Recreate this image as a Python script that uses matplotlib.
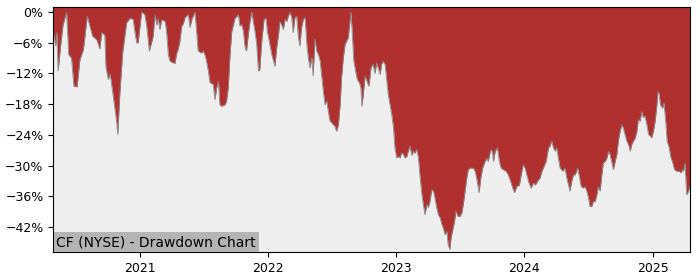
import matplotlib
matplotlib.use("Agg")
import matplotlib.pyplot as plt
import matplotlib.dates as mdates
from matplotlib.ticker import PercentFormatter, MultipleLocator
import pandas as pd

# Drawdown of CF (NYSE).
# Dates are given as day offsets from the first observation.
start_date = "2020-04-28"

day_offsets = [
    0, 7, 10, 14, 22, 28, 38, 44, 52, 59, 68, 76, 86, 97, 112, 124, 133, 138,
    147, 150, 157, 162, 171, 181, 184, 190, 198, 209, 219, 228, 233, 238, 242,
    252, 261, 266, 274, 285, 290, 295, 299, 304, 309, 319, 323, 328, 333, 342,
    347, 352, 356, 361, 366, 371, 376, 385, 390, 395, 404, 409, 413, 423, 428,
    433, 437, 442, 447, 456, 461, 466, 471, 475, 480, 490, 494, 499, 504, 509,
    518, 528, 532, 537, 542, 547, 551, 556, 561, 566, 570, 575, 580, 585, 589,
    594, 601, 607, 610, 616, 623, 627, 632, 637, 642, 646, 651, 656, 661, 666,
    670, 675, 680, 684, 689, 694, 699, 703, 708, 713, 718, 723, 727, 732, 737,
    741, 746, 751, 756, 761, 765, 770, 775, 780, 784, 789, 794, 798, 803, 808,
    813, 818, 822, 827, 832, 841, 846, 849, 854, 857, 863, 867, 873, 877, 880,
    884, 889, 900, 906, 912, 917, 922, 932, 936, 941, 946, 951, 955, 960, 965,
    970, 974, 979, 984, 989, 993, 998, 1003, 1008, 1012, 1017, 1022, 1027,
    1031, 1036, 1041, 1046, 1051, 1055, 1060, 1065, 1069, 1074, 1079, 1084,
    1088, 1093, 1098, 1103, 1108, 1112, 1117, 1122, 1126, 1131, 1134, 1138,
    1144, 1148, 1153, 1160, 1165, 1169, 1174, 1179, 1183, 1188, 1198, 1203,
    1207, 1214, 1219, 1224, 1231, 1236, 1240, 1247, 1252, 1255, 1260, 1266,
    1272, 1277, 1283, 1291, 1297, 1304, 1310, 1315, 1321, 1329, 1336, 1340,
    1345, 1350, 1355, 1362, 1369, 1374, 1378, 1383, 1388, 1393, 1397, 1405,
    1412, 1416, 1421, 1426, 1431, 1435, 1440, 1445, 1453, 1459, 1464, 1469,
    1473, 1478, 1483, 1488, 1495, 1499, 1505, 1511, 1516, 1521, 1526, 1530,
    1535, 1540, 1545, 1550, 1554, 1559, 1564, 1568, 1573, 1578, 1583, 1587,
    1592, 1597, 1602, 1607, 1611, 1616, 1621, 1625, 1630, 1635, 1640, 1645,
    1649, 1654, 1659, 1664, 1668, 1673, 1678, 1682, 1687, 1692, 1697, 1702,
    1706, 1711, 1716, 1721, 1724, 1727, 1731, 1737, 1741, 1746, 1750, 1756,
    1761, 1765, 1771, 1778, 1784, 1790, 1794, 1797, 1801, 1806, 1811, 1816,
]

drawdown = [
    -3.7, -6.6, -4.0, -11.5, -6.0, -2.5, 0.0, -8.3, -9.0, -14.5, -14.6, -9.3,
    -7.3, -0.8, -4.7, -5.4, -7.2, -4.0, -4.5, -10.6, -13.2, -12.0, -16.4,
    -21.6, -23.9, -15.8, -7.9, -2.1, -1.2, -1.4, -4.0, -6.0, -6.0, 0.0, -0.5,
    -2.5, -7.6, -4.7, -0.5, -2.5, -1.2, -3.4, -1.5, -1.8, -3.7, -8.3, -9.6,
    -9.9, -10.0, -8.0, -7.3, -5.7, -2.8, -2.2, -1.0, -0.5, -3.0, -1.4, 0.0,
    -4.0, -7.6, -8.0, -7.6, -8.5, -9.6, -11.5, -13.8, -14.1, -17.1, -14.8,
    -13.5, -18.1, -18.4, -18.1, -17.4, -14.8, -8.3, -3.8, -1.2, -0.5, -2.7,
    -2.4, -3.7, -7.0, -7.6, -4.4, -1.8, 0.0, -1.8, -3.7, -6.3, -11.5, -11.2,
    -6.0, -1.4, -1.2, -3.7, -5.7, -8.3, -9.3, -10.6, -7.0, -4.5, -1.8, -2.5,
    -3.4, -1.4, -1.8, -0.8, 0.0, -1.1, -4.0, -1.1, -0.8, -5.0, -6.6, -3.0,
    -1.4, -1.1, -6.3, -8.9, -10.9, -8.9, -12.5, -5.3, -7.6, -8.3, -9.6, -12.3,
    -15.5, -18.1, -17.4, -19.4, -21.3, -21.6, -22.0, -22.3, -23.3, -22.0,
    -18.1, -12.8, -8.9, -6.3, -5.0, -1.8, 0.0, -6.0, -9.6, -11.9, -13.2,
    -13.8, -14.8, -18.4, -16.1, -12.5, -14.5, -10.8, -10.2, -12.0, -9.9,
    -12.2, -10.2, -9.6, -10.2, -13.5, -16.1, -18.1, -20.0, -22.6, -26.5,
    -28.5, -28.2, -28.5, -27.5, -27.8, -28.5, -28.2, -27.2, -26.2, -28.0,
    -27.2, -27.6, -26.8, -28.5, -32.4, -35.7, -37.6, -39.6, -37.6, -38.2,
    -37.0, -34.7, -35.0, -36.3, -38.2, -39.6, -40.2, -41.5, -42.2, -43.5,
    -42.9, -45.5, -46.4, -44.2, -42.9, -40.9, -38.9, -39.9, -39.9, -39.2,
    -37.6, -35.0, -32.4, -30.8, -30.5, -30.5, -31.2, -32.4, -35.3, -32.4,
    -30.5, -29.2, -28.6, -29.2, -26.9, -27.2, -29.2, -27.2, -26.5, -29.2,
    -30.5, -30.8, -31.1, -31.8, -33.1, -34.4, -35.3, -34.1, -33.8, -31.1,
    -29.8, -30.5, -31.8, -33.1, -34.4, -33.4, -33.8, -33.4, -32.8, -32.4,
    -31.1, -30.5, -29.2, -26.5, -26.2, -25.2, -26.5, -27.2, -26.5, -28.5,
    -30.5, -31.1, -30.5, -32.4, -33.8, -35.0, -33.1, -31.8, -31.8, -30.5,
    -31.8, -34.1, -34.4, -34.1, -35.0, -36.3, -38.0, -38.0, -37.0, -37.0,
    -35.7, -34.1, -35.0, -31.8, -29.5, -29.2, -28.6, -27.2, -27.8, -29.2,
    -30.8, -29.2, -27.8, -25.2, -23.3, -22.0, -22.6, -23.9, -25.2, -25.9,
    -27.2, -25.9, -25.2, -24.6, -23.3, -21.0, -21.3, -19.4, -20.6, -20.3,
    -21.9, -23.9, -24.2, -24.6, -23.3, -21.3, -18.1, -15.5, -15.8, -18.1,
    -18.8, -17.7, -21.3, -25.2, -26.5, -28.5, -29.2, -30.8, -31.1, -31.1,
    -31.4, -30.8, -31.1, -29.5, -35.7, -35.0, -33.8,
]

y_ticks = [0, -6, -12, -18, -24, -30, -36, -42]
chart_label = "CF (NYSE) - Drawdown Chart"

dates = pd.to_datetime(start_date) + pd.to_timedelta(day_offsets, unit="D")

fig, ax = plt.subplots(figsize=(7, 2.8), dpi=100)
fig.subplots_adjust(left=0.076, right=0.986, top=0.975, bottom=0.1)

y_bottom, y_top = -46.9, 1.0
ax.set_facecolor("#eeeeee")
ax.fill_between(dates, drawdown, y_top, color="#b03030", linewidth=0)
ax.plot(dates, drawdown, color="#888888", linewidth=0.6)

ax.set_xlim(dates[0], dates[-1])
ax.set_ylim(y_bottom, y_top)
ax.set_yticks(y_ticks)
ax.yaxis.set_major_formatter(PercentFormatter(decimals=0))
ax.xaxis.set_major_locator(mdates.YearLocator())
ax.xaxis.set_major_formatter(mdates.DateFormatter("%Y"))
ax.tick_params(labelsize=9)

ax.text(
    0.005, 0.012, chart_label,
    transform=ax.transAxes, fontsize=10, ha="left", va="bottom",
    bbox=dict(facecolor="#b4b4b4", edgecolor="none", pad=2),
)

fig.savefig("out.png", dpi=100)
